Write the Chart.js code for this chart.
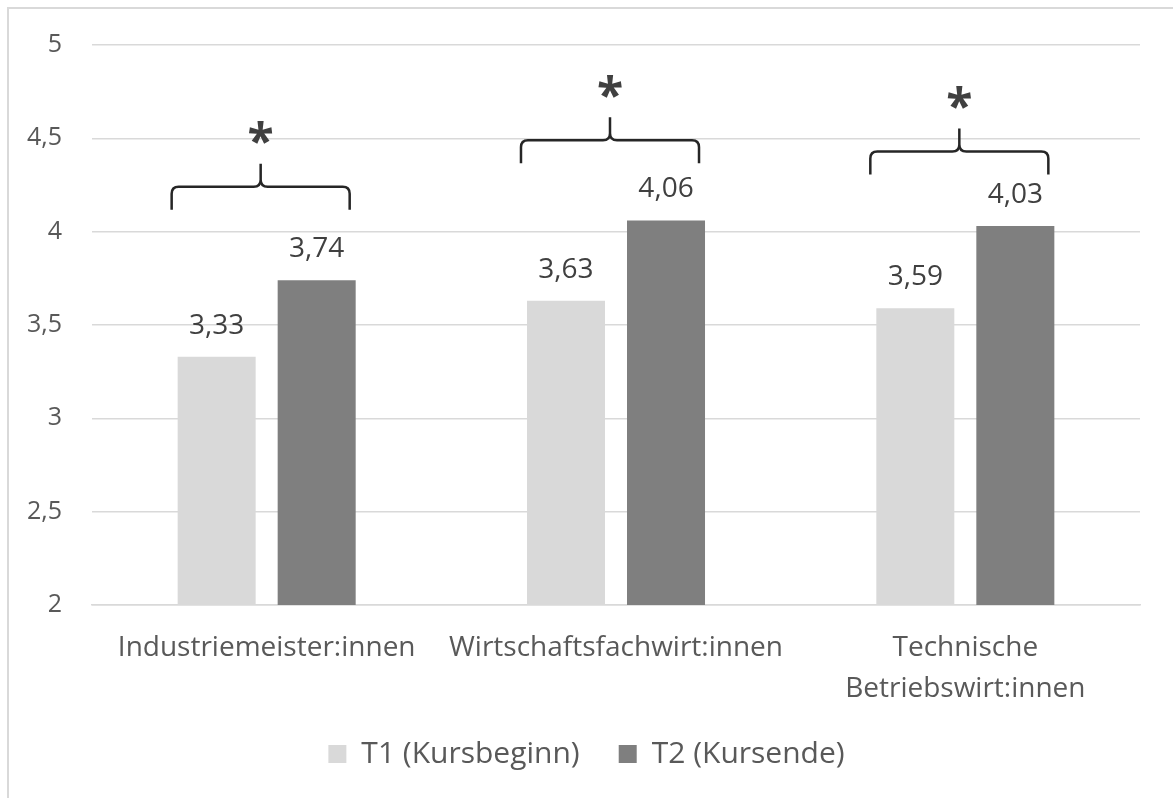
<!DOCTYPE html>
<html>
<head>
<meta charset="utf-8">
<script src="https://cdn.jsdelivr.net/npm/chart.js@4.4.1/dist/chart.umd.min.js"></script>
<style>
html, body { margin: 0; padding: 0; background: #fff; overflow: hidden; }
#frame { position: absolute; left: 7px; top: 7px; width: 1300px; height: 900px; border: 2px solid #d9d9d9; box-sizing: border-box; }
#wrap { position: absolute; left: 0; top: 0; width: 1173px; height: 798px; }
</style>
</head>
<body>
<div id="frame"></div>
<div id="wrap"><canvas id="chart"></canvas></div>
<script>
var categories = ['Industriemeister:innen', 'Wirtschaftsfachwirt:innen', ['Technische', 'Betriebswirt:innen']];
var seriesNames = ['T1 (Kursbeginn)', 'T2 (Kursende)'];
var t1Values = [3.33, 3.63, 3.59];
var t2Values = [3.74, 4.06, 4.03];
var yTickLabels = ['2', '2,5', '3', '3,5', '4', '4,5', '5'];
// significance braces: level of the brace line (y units) and the mark above
var braceLevel = [4.24, 4.49, 4.43];
var sigMarks = ['*', '*', '*'];

var FONT = '"Open Sans", "Noto Sans", sans-serif';
var TEXT = '#595959';

function fmt(v) {
    return v.toFixed(2).replace('.', ',');
}

var bracePlugin = {
    id: 'braces',
    afterDatasetsDraw: function (chart) {
        var ctx = chart.ctx;
        var yScale = chart.scales.y;
        var m0 = chart.getDatasetMeta(0), m1 = chart.getDatasetMeta(1);
        ctx.save();

        // value labels above the bars
        ctx.font = '28px ' + FONT;
        ctx.fillStyle = '#404040';
        ctx.textAlign = 'center';
        ctx.textBaseline = 'alphabetic';
        var dm = ctx.measureText('0');
        var dOff = (dm.actualBoundingBoxAscent - dm.actualBoundingBoxDescent) / 2;
        [m0, m1].forEach(function (meta, d) {
            meta.data.forEach(function (bar, i) {
                var txt = fmt(chart.data.datasets[d].data[i]);
                ctx.fillText(txt, bar.x, bar.y - 33 + dOff);
            });
        });

        // braces + asterisks
        ctx.strokeStyle = '#262626';
        ctx.lineWidth = 2.5;
        ctx.lineJoin = 'round';
        braceLevel.forEach(function (lvl, i) {
            var b0 = m0.data[i], b1 = m1.data[i];
            var left = b0.x - b0.width / 2 - 6;
            var right = b1.x + b1.width / 2 - 6;
            var c = (left + right) / 2;
            var yy = yScale.getPixelForValue(lvl);
            var h = 23, r = 7;
            ctx.beginPath();
            ctx.moveTo(left, yy + h);
            ctx.lineTo(left, yy + r);
            ctx.quadraticCurveTo(left, yy, left + r, yy);
            ctx.lineTo(c - r, yy);
            ctx.quadraticCurveTo(c, yy, c, yy - r);
            ctx.lineTo(c, yy - h);
            ctx.moveTo(c, yy - r);
            ctx.quadraticCurveTo(c, yy, c + r, yy);
            ctx.lineTo(right - r, yy);
            ctx.quadraticCurveTo(right, yy, right, yy + r);
            ctx.lineTo(right, yy + h);
            ctx.stroke();

            ctx.font = 'bold 48px ' + FONT;
            ctx.fillStyle = '#404040';
            var am = ctx.measureText(sigMarks[i]);
            var aOff = (am.actualBoundingBoxAscent - am.actualBoundingBoxDescent) / 2;
            ctx.fillText(sigMarks[i], c, yy - 54 + aOff);
        });
        ctx.restore();
    }
};

var ctxChart = document.getElementById('chart').getContext('2d');
var chart = new Chart(ctxChart, {
    type: 'bar',
    data: {
        labels: categories,
        datasets: [
            {
                label: seriesNames[0],
                data: t1Values,
                backgroundColor: '#d9d9d9',
                categoryPercentage: 0.5726,
                barPercentage: 0.78
            },
            {
                label: seriesNames[1],
                data: t2Values,
                backgroundColor: '#7f7f7f',
                categoryPercentage: 0.5726,
                barPercentage: 0.78
            }
        ]
    },
    options: {
        responsive: true,
        maintainAspectRatio: false,
        animation: false,
        layout: {
            padding: { top: 43, right: 0, left: 0, bottom: 19 }
        },
        plugins: {
            tooltip: { enabled: false },
            legend: {
                display: true,
                position: 'bottom',
                labels: {
                    boxWidth: 18,
                    boxHeight: 18,
                    padding: 39,
                    color: TEXT,
                    font: { family: FONT, size: 30 }
                }
            }
        },
        scales: {
            x: {
                grid: { display: false },
                border: { display: true, color: '#d9d9d9', width: 1.5 },
                ticks: {
                    color: TEXT,
                    padding: 15,
                    maxRotation: 0,
                    font: { family: FONT, size: 28, lineHeight: 1.45 }
                },
                afterFit: function (axis) { axis.height = 95; }
            },
            y: {
                min: 2,
                max: 5,
                grid: { color: '#d9d9d9', lineWidth: 1.5, drawTicks: false },
                border: { display: false },
                ticks: {
                    stepSize: 0.5,
                    color: TEXT,
                    padding: 30,
                    font: { family: FONT, size: 25 },
                    callback: function (v, i) { return yTickLabels[i]; }
                },
                afterFit: function (axis) { axis.width = 92; }
            },
            // empty right-hand spacer so the plot ends where the original does
            yRight: {
                position: 'right',
                grid: { display: false },
                border: { display: false },
                ticks: { display: false },
                afterFit: function (axis) { axis.width = 33; }
            }
        }
    },
    plugins: [bracePlugin]
});
</script>
</body>
</html>
